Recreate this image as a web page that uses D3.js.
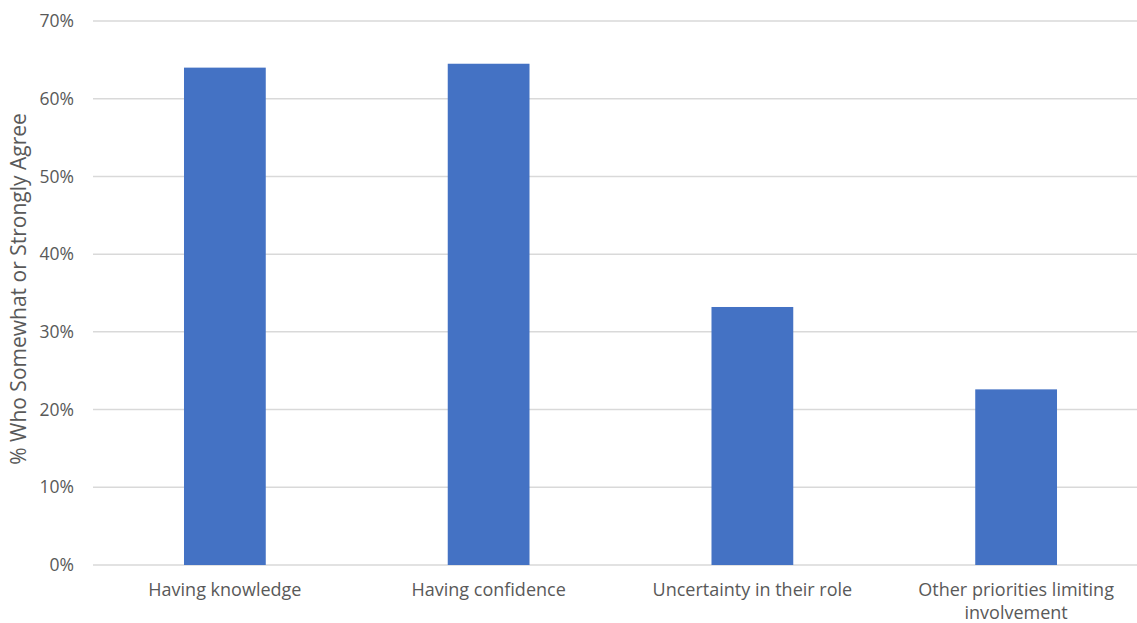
<!DOCTYPE html>
<html>
<head>
<meta charset="utf-8">
<script src="https://cdn.jsdelivr.net/npm/d3@7"></script>
<style>
  body { margin: 0; background: #fff; }
  svg text { font-family: "Open Sans", "Liberation Sans", sans-serif; fill: #595959; }
</style>
</head>
<body>
<div id="chart"></div>
<script>
var categories = ["Having knowledge", "Having confidence", "Uncertainty in their role", "Other priorities limiting involvement"];
var values = [64.0, 64.5, 33.2, 22.6];
var yTicks = [0, 10, 20, 30, 40, 50, 60, 70];
var yTitle = "% Who Somewhat or Strongly Agree";

var width = 1137, height = 623;
var plot = { left: 93, right: 1148, top: 21, bottom: 565 };

var svg = d3.select("#chart").append("svg")
    .attr("width", width)
    .attr("height", height);

var x = d3.scaleBand()
    .domain(categories)
    .range([plot.left, plot.right])
    .paddingInner(0.69)
    .paddingOuter(0.345);

var y = d3.scaleLinear()
    .domain([0, 70])
    .range([plot.bottom, plot.top]);

// gridlines
svg.append("g").selectAll("line")
    .data(yTicks)
    .enter()
    .append("line")
    .attr("x1", plot.left)
    .attr("x2", width)
    .attr("y1", function(d){ return y(d); })
    .attr("y2", function(d){ return y(d); })
    .style("stroke", "#d9d9d9")
    .attr("stroke-width", 1.5);

// y tick labels
svg.append("g").selectAll("text")
    .data(yTicks)
    .enter()
    .append("text")
    .attr("x", 74)
    .attr("y", function(d){ return y(d); })
    .attr("dy", "0.35em")
    .attr("text-anchor", "end")
    .attr("font-size", "17.5px")
    .text(function(d){ return d + "%"; });

// bars
svg.append("g").selectAll("rect")
    .data(values)
    .enter()
    .append("rect")
    .attr("x", function(d, i){ return x(categories[i]); })
    .attr("width", x.bandwidth())
    .attr("y", function(d){ return y(d); })
    .attr("height", function(d){ return y(0) - y(d); })
    .style("fill", "#4472c4");

// category labels, wrapped like the original
var wrapped = {
    "Other priorities limiting involvement": ["Other priorities limiting", "involvement"]
};
var labels = svg.append("g").selectAll("text")
    .data(categories)
    .enter()
    .append("text")
    .attr("x", function(d){ return x(d) + x.bandwidth()/2; })
    .attr("y", 596)
    .attr("text-anchor", "middle")
    .attr("font-size", "18px");

labels.each(function(d){
    var lines = wrapped[d] || [d];
    var t = d3.select(this);
    lines.forEach(function(l, i){
        t.append("tspan")
            .attr("x", x(d) + x.bandwidth()/2)
            .attr("dy", i === 0 ? 0 : 23)
            .text(l);
    });
});

// y axis title
svg.append("text")
    .attr("transform", "translate(26," + ((plot.top + plot.bottom)/2 - 4) + ") rotate(-90)")
    .attr("text-anchor", "middle")
    .attr("font-size", "21px")
    .text(yTitle);
</script>
</body>
</html>
